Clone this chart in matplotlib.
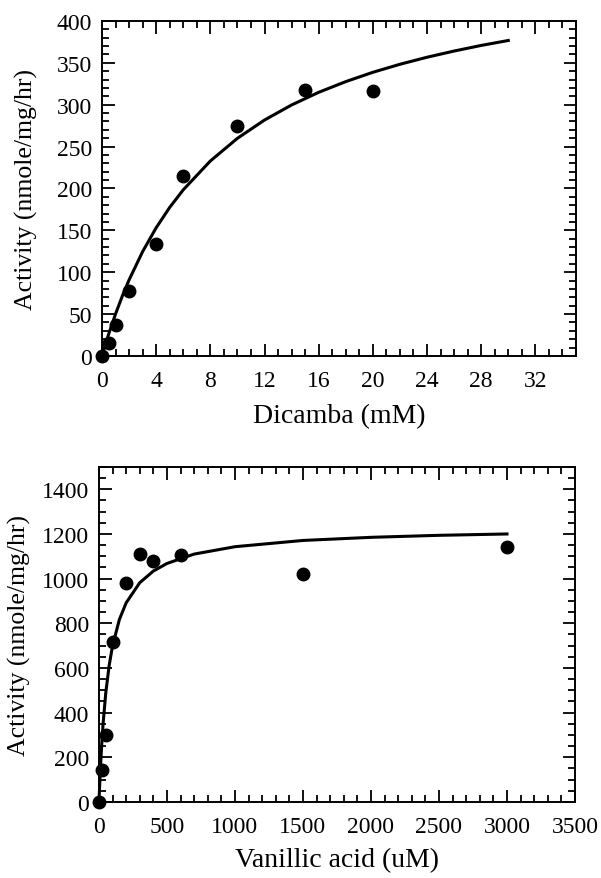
import matplotlib.pyplot as plt
from matplotlib.ticker import MultipleLocator

plt.rcParams['font.family'] = ['Liberation Serif', 'DejaVu Serif']

# Dicamba data (mM, nmole/mg/hr)
dicamba_x = [0, 0.5, 1, 2, 4, 6, 10, 15, 20]
dicamba_y = [0, 15, 37, 78, 134, 215, 275, 318, 316]
# fitted curve
dicamba_fit_x = [0, 0.25, 0.5, 1, 1.5, 2, 3, 4, 5, 6, 8, 10, 12, 14, 16, 18, 20, 22, 24, 26, 28, 30]
dicamba_fit_y = [0, 13.6, 26.4, 50.1, 71.5, 90.8, 124.6, 153.1, 177.4, 198.4, 232.8, 259.9,
                 281.7, 299.7, 314.8, 327.6, 338.7, 348.3, 356.7, 364.1, 370.8, 376.7]

# Vanillic acid data (uM, nmole/mg/hr)
vanillic_x = [0, 25, 50, 100, 200, 300, 400, 600, 1500, 3000]
vanillic_y = [0, 145, 300, 715, 980, 1110, 1080, 1105, 1020, 1140]
vanillic_fit_x = [0, 5, 10, 20, 30, 50, 75, 100, 150, 200, 300, 400, 500, 700, 1000,
                  1500, 2000, 2500, 3000]
vanillic_fit_y = [0, 76, 143, 257, 349, 489, 612, 700, 817, 892, 982, 1034, 1068, 1110,
                  1143, 1171, 1185, 1194, 1200]

fig = plt.figure(figsize=(6.01, 8.79), dpi=100)
ax1 = fig.add_axes([0.1697, 0.5939, 0.7887, 0.3811])
ax2 = fig.add_axes([0.1647, 0.0865, 0.7920, 0.3811])


def style(ax, xmaj, xmin, ymaj, ymin):
    ax.xaxis.set_major_locator(MultipleLocator(xmaj))
    ax.xaxis.set_minor_locator(MultipleLocator(xmin))
    ax.yaxis.set_major_locator(MultipleLocator(ymaj))
    ax.yaxis.set_minor_locator(MultipleLocator(ymin))
    ax.tick_params(which='both', direction='in', top=True, right=True, width=1.3,
                   labelsize=17)
    ax.tick_params(axis='x', pad=10)
    ax.tick_params(axis='y', pad=7)
    ax.tick_params(which='major', length=9)
    ax.tick_params(which='minor', length=5)
    for s in ax.spines.values():
        s.set_linewidth(1.4)


ax1.plot(dicamba_fit_x, dicamba_fit_y, color='black', lw=2.2, clip_on=False)
ax1.plot(dicamba_x, dicamba_y, 'o', color='black', ms=9, clip_on=False, zorder=5)
ax1.set_xlim(0, 35)
ax1.set_ylim(0, 400)
style(ax1, 4, 1, 50, 10)
ax1.set_xlabel('Dicamba (mM)', fontsize=20)
ax1.set_ylabel('Activity (nmole/mg/hr)', fontsize=18.5)
ax1.xaxis.set_label_coords(0.5, -0.14)
ax1.yaxis.set_label_coords(-0.135, 0.5)

ax2.plot(vanillic_fit_x, vanillic_fit_y, color='black', lw=2.2, clip_on=False)
ax2.plot(vanillic_x, vanillic_y, 'o', color='black', ms=9, clip_on=False, zorder=5)
ax2.set_xlim(0, 3500)
ax2.set_ylim(0, 1500)
ax2.set_xticks([0, 500, 1000, 1500, 2000, 2500, 3000, 3500])
style(ax2, 500, 100, 200, 50)
ax2.set_xlabel('Vanillic acid (uM)', fontsize=20)
ax2.set_ylabel('Activity (nmole/mg/hr)', fontsize=18.5)
ax2.xaxis.set_label_coords(0.5, -0.135)
ax2.yaxis.set_label_coords(-0.143, 0.5)

fig.savefig('out.png', dpi=100)
